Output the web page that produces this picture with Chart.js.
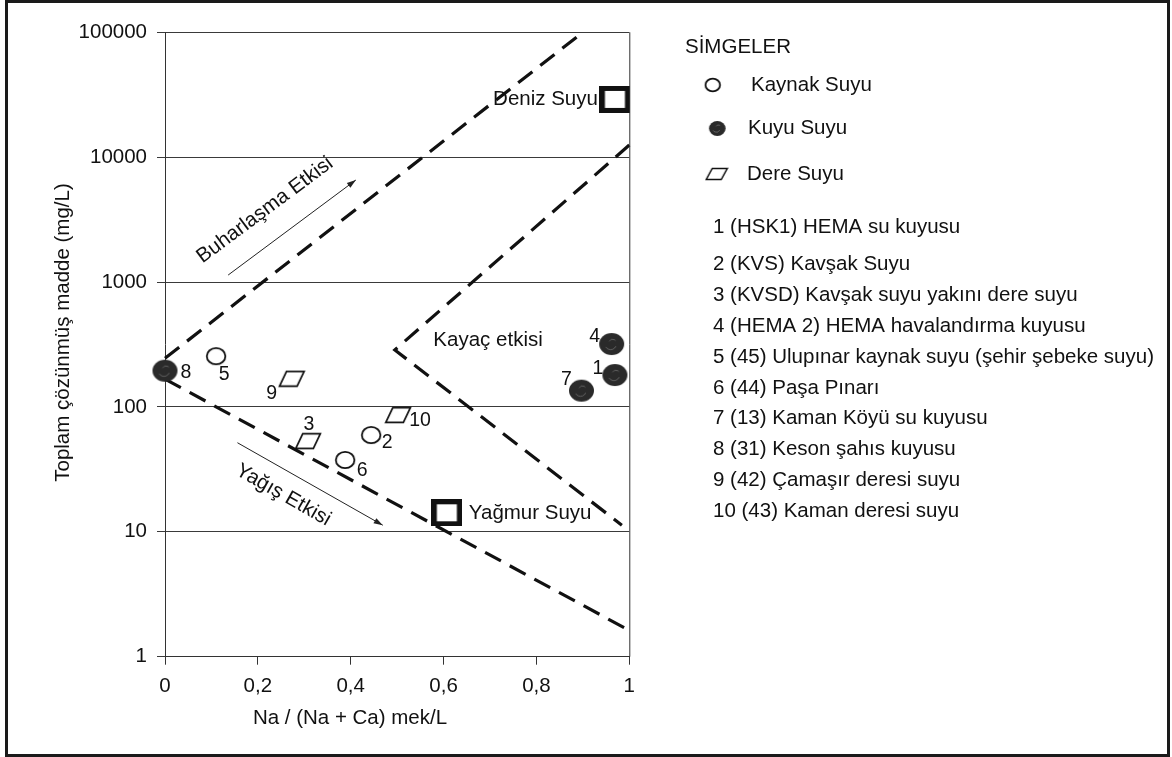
<!DOCTYPE html>
<html>
<head>
<meta charset="utf-8">
<script src="https://cdn.jsdelivr.net/npm/chart.js@4.4.1/dist/chart.umd.min.js"></script>
<style>
html,body{margin:0;padding:0;background:#fff;}
#wrap{width:1172px;height:757px;position:relative;}
</style>
</head>
<body>
<div id="wrap"><canvas id="c" width="1172" height="757"></canvas></div>
<script>
// ---------------- DATA ----------------
const xTicks = [0, 0.2, 0.4, 0.6, 0.8, 1];
const xTickLabels = ['0', '0,2', '0,4', '0,6', '0,8', '1'];
const yTicks = [1, 10, 100, 1000, 10000, 100000];

// Kaynak Suyu (spring water) - open circles
const kaynakIds = ['5', '2', '6'];
const kaynakNa = [0.11, 0.444, 0.388];
const kaynakTds = [255, 59.6, 37.6];

// Kuyu Suyu (well water) - filled circles
const kuyuIds = ['8', '4', '1', '7'];
const kuyuNa = [0.0, 0.962, 0.969, 0.897];
const kuyuTds = [195, 319, 180, 135];

// Dere Suyu (stream water) - parallelograms
const dereIds = ['9', '3', '10'];
const dereNa = [0.273, 0.308, 0.502];
const dereTds = [168, 53.3, 86.1];

// Reference waters
const refNames = ['Deniz Suyu', 'Yağmur Suyu'];
const refNa = [0.969, 0.607];
const refTds = [29000, 14.2];

// Gibbs boundary lines
const upperBoundNa = [0, 0.9];
const upperBoundTds = [245, 100000];
const lowerBoundNa = [0, 0.99];
const lowerBoundTds = [167, 1.7];
const rockBoundNa = [1, 0.495, 0.984];
const rockBoundTds = [12500, 286, 11.3];

// Process arrows and labels (data coordinates)
const evapArrowNa = [0.136, 0.411];
const evapArrowTds = [1138, 6560];
const rainArrowNa = [0.156, 0.469];
const rainArrowTds = [51.7, 11.3];
const zoneLabels = ['Buharlaşma Etkisi', 'Yağış Etkisi', 'Kayaç etkisi'];
const zoneLabelNa = [0.2154, 0.2548, 0.578];
const zoneLabelTds = [3770, 19.7, 343];

// Texts
const xTitle = 'Na / (Na + Ca) mek/L';
const yTitle = 'Toplam çözünmüş madde (mg/L)';
const legendTitle = 'SİMGELER';
const legendSymbolLabels = ['Kaynak Suyu', 'Kuyu Suyu', 'Dere Suyu'];
const sampleNames = [
  '1 (HSK1) HEMA su kuyusu',
  '2 (KVS) Kavşak Suyu',
  '3 (KVSD) Kavşak suyu yakını dere suyu',
  '4 (HEMA 2) HEMA havalandırma kuyusu',
  '5 (45) Ulupınar kaynak suyu (şehir şebeke suyu)',
  '6 (44) Paşa Pınarı',
  '7 (13) Kaman Köyü su kuyusu',
  '8 (31) Keson şahıs kuyusu',
  '9 (42) Çamaşır deresi suyu',
  '10 (43) Kaman deresi suyu'
];

// ---------------- STYLE / LAYOUT ----------------
const FONT = '"Liberation Sans", Arial, Helvetica, sans-serif';
const FS = 20.5;
const INK = '#111';
Chart.defaults.font.family = FONT;
Chart.defaults.font.size = FS;
Chart.defaults.color = INK;

const labelOffsets = { // label offsets from marker centre (px)
  '8': [21, 2], '5': [8, 18], '9': [-20, 15], '3': [1, -16], '2': [16, 8],
  '6': [17, 11], '10': [22, 6], '4': [-17, -7], '1': [-17, -6], '7': [-15, -11]
};
const refLabelStyle = {'Deniz Suyu': {dx: -17, dy: 0, align: 'right'}, 'Yağmur Suyu': {dx: 22, dy: 1, align: 'left'}};

function mk(w, h, fn) {
  const c = document.createElement('canvas');
  c.width = w; c.height = h;
  fn(c.getContext('2d'), w, h);
  return c;
}
function ellipseSym(w, h, rx, ry, filled, lw) {
  return mk(w, h, (g) => {
    g.beginPath(); g.ellipse(w / 2, h / 2, rx, ry, 0, 0, Math.PI * 2);
    if (filled) {
      g.fillStyle = '#2a2a2a'; g.fill();
      g.strokeStyle = 'rgba(140,140,140,0.55)'; g.lineWidth = 1;
      g.beginPath(); g.arc(w / 2 - 1, h / 2, rx * 0.45, 0.4, 2.6); g.stroke();
      g.beginPath(); g.arc(w / 2 + 1, h / 2 - 1, rx * 0.3, 3.6, 5.6); g.stroke();
    } else {
      g.fillStyle = '#fff'; g.fill();
      g.lineWidth = lw; g.strokeStyle = INK; g.stroke();
    }
  });
}
function paraSym(w, h, skew, lw) {
  return mk(w, h, (g) => {
    const p = lw;
    g.beginPath();
    g.moveTo(p + skew, p); g.lineTo(w - p, p); g.lineTo(w - p - skew, h - p); g.lineTo(p, h - p); g.closePath();
    g.fillStyle = '#fff'; g.fill(); g.lineWidth = lw; g.strokeStyle = INK; g.stroke();
  });
}
const symOpen = ellipseSym(22, 20, 9.3, 8.2, false, 1.8);
const symFilled = ellipseSym(27, 24, 12.5, 11, true, 0);
const symPara = paraSym(28, 18, 7, 1.7);
const symSquare = mk(31, 27, (g) => {
  g.fillStyle = '#111'; g.fillRect(0, 0, 31, 27);
  g.fillStyle = '#fff'; g.fillRect(5.5, 5, 20, 17);
});
const legOpen = ellipseSym(18, 16, 7.3, 6.4, false, 1.8);
const legFilled = ellipseSym(19, 17, 8.3, 7.4, true, 0);
const legPara = paraSym(24, 14, 6, 1.5);

const toPts = (xs, ys) => xs.map((x, i) => ({x: x, y: ys[i]}));

function pointSet(label, xs, ys, ids, sym) {
  return {label, data: toPts(xs, ys), ids, pointStyle: sym, pointRadius: 10, pointHoverRadius: 10,
    showLine: false, clip: false, order: 1};
}
function lineSet(label, xs, ys) {
  return {label, data: toPts(xs, ys), showLine: true, borderColor: INK, borderWidth: 3.2,
    borderDash: [18, 10], pointRadius: 0, fill: false, tension: 0, clip: false, order: 5};
}

const datasets = [
  pointSet('Kaynak Suyu', kaynakNa, kaynakTds, kaynakIds, symOpen),
  pointSet('Kuyu Suyu', kuyuNa, kuyuTds, kuyuIds, symFilled),
  pointSet('Dere Suyu', dereNa, dereTds, dereIds, symPara),
  Object.assign(pointSet('Referans', refNa, refTds, refNames, symSquare), {isRef: true}),
  lineSet('Üst sınır', upperBoundNa, upperBoundTds),
  lineSet('Alt sınır', lowerBoundNa, lowerBoundTds),
  lineSet('Kayaç sınırı', rockBoundNa, rockBoundTds)
];

function drawArrow(ctx, x1, y1, x2, y2) {
  ctx.beginPath(); ctx.moveTo(x1, y1); ctx.lineTo(x2, y2); ctx.stroke();
  const a = Math.atan2(y2 - y1, x2 - x1), L = 9, W = 3;
  ctx.beginPath();
  ctx.moveTo(x2, y2);
  ctx.lineTo(x2 - L * Math.cos(a) + W * Math.sin(a), y2 - L * Math.sin(a) - W * Math.cos(a));
  ctx.lineTo(x2 - L * Math.cos(a) - W * Math.sin(a), y2 - L * Math.sin(a) + W * Math.cos(a));
  ctx.closePath(); ctx.fill();
}

const decorPlugin = {
  id: 'decor',
  beforeDraw(chart) {
    const ctx = chart.ctx;
    ctx.save();
    ctx.fillStyle = '#fff'; ctx.fillRect(0, 0, chart.width, chart.height);
    ctx.strokeStyle = '#1a1a1a'; ctx.lineWidth = 3;
    ctx.strokeRect(6.5, 1.5, 1162, 754);
    ctx.restore();
  },
  afterDatasetsDraw(chart) {
    const ctx = chart.ctx, xs = chart.scales.x, ys = chart.scales.y, ca = chart.chartArea;
    const F = (s) => s + 'px ' + FONT;
    ctx.save();
    // plot right border
    ctx.strokeStyle = '#333'; ctx.lineWidth = 1;
    ctx.beginPath(); ctx.moveTo(ca.right + 0.5, ca.top); ctx.lineTo(ca.right + 0.5, ca.bottom); ctx.stroke();

    // point labels
    ctx.fillStyle = INK; ctx.textBaseline = 'middle';
    chart.data.datasets.forEach((ds, di) => {
      if (!ds.ids) return;
      const meta = chart.getDatasetMeta(di);
      meta.data.forEach((el, i) => {
        const id = ds.ids[i];
        if (ds.isRef) {
          const s = refLabelStyle[id];
          ctx.font = F(FS); ctx.textAlign = s.align;
          ctx.fillText(id, el.x + s.dx, el.y + s.dy);
        } else {
          const o = labelOffsets[id];
          ctx.font = F(19.5); ctx.textAlign = 'center';
          ctx.fillText(id, el.x + o[0], el.y + o[1]);
        }
      });
    });

    // arrows
    ctx.strokeStyle = '#222'; ctx.fillStyle = '#222'; ctx.lineWidth = 1;
    const ev = [xs.getPixelForValue(evapArrowNa[0]), ys.getPixelForValue(evapArrowTds[0]),
                xs.getPixelForValue(evapArrowNa[1]), ys.getPixelForValue(evapArrowTds[1])];
    const ra = [xs.getPixelForValue(rainArrowNa[0]), ys.getPixelForValue(rainArrowTds[0]),
                xs.getPixelForValue(rainArrowNa[1]), ys.getPixelForValue(rainArrowTds[1])];
    drawArrow(ctx, ev[0], ev[1], ev[2], ev[3]);
    drawArrow(ctx, ra[0], ra[1], ra[2], ra[3]);
    const angles = [Math.atan2(ev[3] - ev[1], ev[2] - ev[0]), Math.atan2(ra[3] - ra[1], ra[2] - ra[0]), 0];

    // zone labels
    ctx.fillStyle = INK; ctx.font = F(FS); ctx.textBaseline = 'middle';
    zoneLabels.forEach((t, i) => {
      const px = xs.getPixelForValue(zoneLabelNa[i]), py = ys.getPixelForValue(zoneLabelTds[i]);
      ctx.save(); ctx.translate(px, py); ctx.rotate(angles[i]);
      ctx.textAlign = i === 2 ? 'left' : 'center';
      ctx.fillText(t, 0, 0);
      ctx.restore();
    });

    // axis titles
    ctx.textAlign = 'center';
    ctx.fillText(xTitle, 350, 718);
    ctx.save(); ctx.translate(63.5, 332.5); ctx.rotate(-Math.PI / 2); ctx.fillText(yTitle, 0, 0); ctx.restore();

    // legend
    ctx.textAlign = 'left';
    ctx.fillText(legendTitle, 685, 47);
    const legSyms = [legOpen, legFilled, legPara];
    const legSymPos = [[712.7, 85], [717.3, 128.5], [716.7, 174]];
    const legTextX = [751, 748, 747];
    legSyms.forEach((s, i) => {
      ctx.drawImage(s, legSymPos[i][0] - s.width / 2, legSymPos[i][1] - s.height / 2);
      ctx.fillText(legendSymbolLabels[i], legTextX[i], legSymPos[i][1]);
    });
    const itemY = [227, 264, 295, 326, 357, 388, 418, 449, 480, 511];
    sampleNames.forEach((t, i) => ctx.fillText(t, 713, itemY[i]));
    ctx.restore();
  }
};

new Chart(document.getElementById('c'), {
  type: 'scatter',
  data: {datasets},
  options: {
    responsive: false,
    animation: false,
    layout: {padding: {left: 0, right: 542.7, top: 32.3, bottom: 0}},
    plugins: {legend: {display: false}, tooltip: {enabled: false}},
    scales: {
      x: {
        type: 'linear', min: 0, max: 1,
        afterBuildTicks: (s) => { s.ticks = xTicks.map(v => ({value: v})); },
        afterFit: (s) => { s.height = 100.3; },
        ticks: {padding: 9, maxRotation: 0, autoSkip: false, font: {size: FS},
          callback: (v) => xTickLabels[xTicks.indexOf(v)] ?? ''},
        grid: {drawOnChartArea: false, drawTicks: true, tickLength: 8, color: '#333', lineWidth: 1},
        border: {display: true, color: '#333', width: 1},
        title: {display: false}
      },
      y: {
        type: 'logarithmic', min: 1, max: 100000,
        afterBuildTicks: (s) => { s.ticks = yTicks.map(v => ({value: v})); },
        afterFit: (s) => { s.width = 165; },
        ticks: {padding: 10, autoSkip: false, font: {size: FS}, callback: (v) => String(v)},
        grid: {drawOnChartArea: true, drawTicks: true, tickLength: 8, color: '#3a3a3a', lineWidth: 1},
        border: {display: true, color: '#333', width: 1},
        title: {display: false}
      }
    }
  },
  plugins: [decorPlugin]
});
</script>
</body>
</html>
